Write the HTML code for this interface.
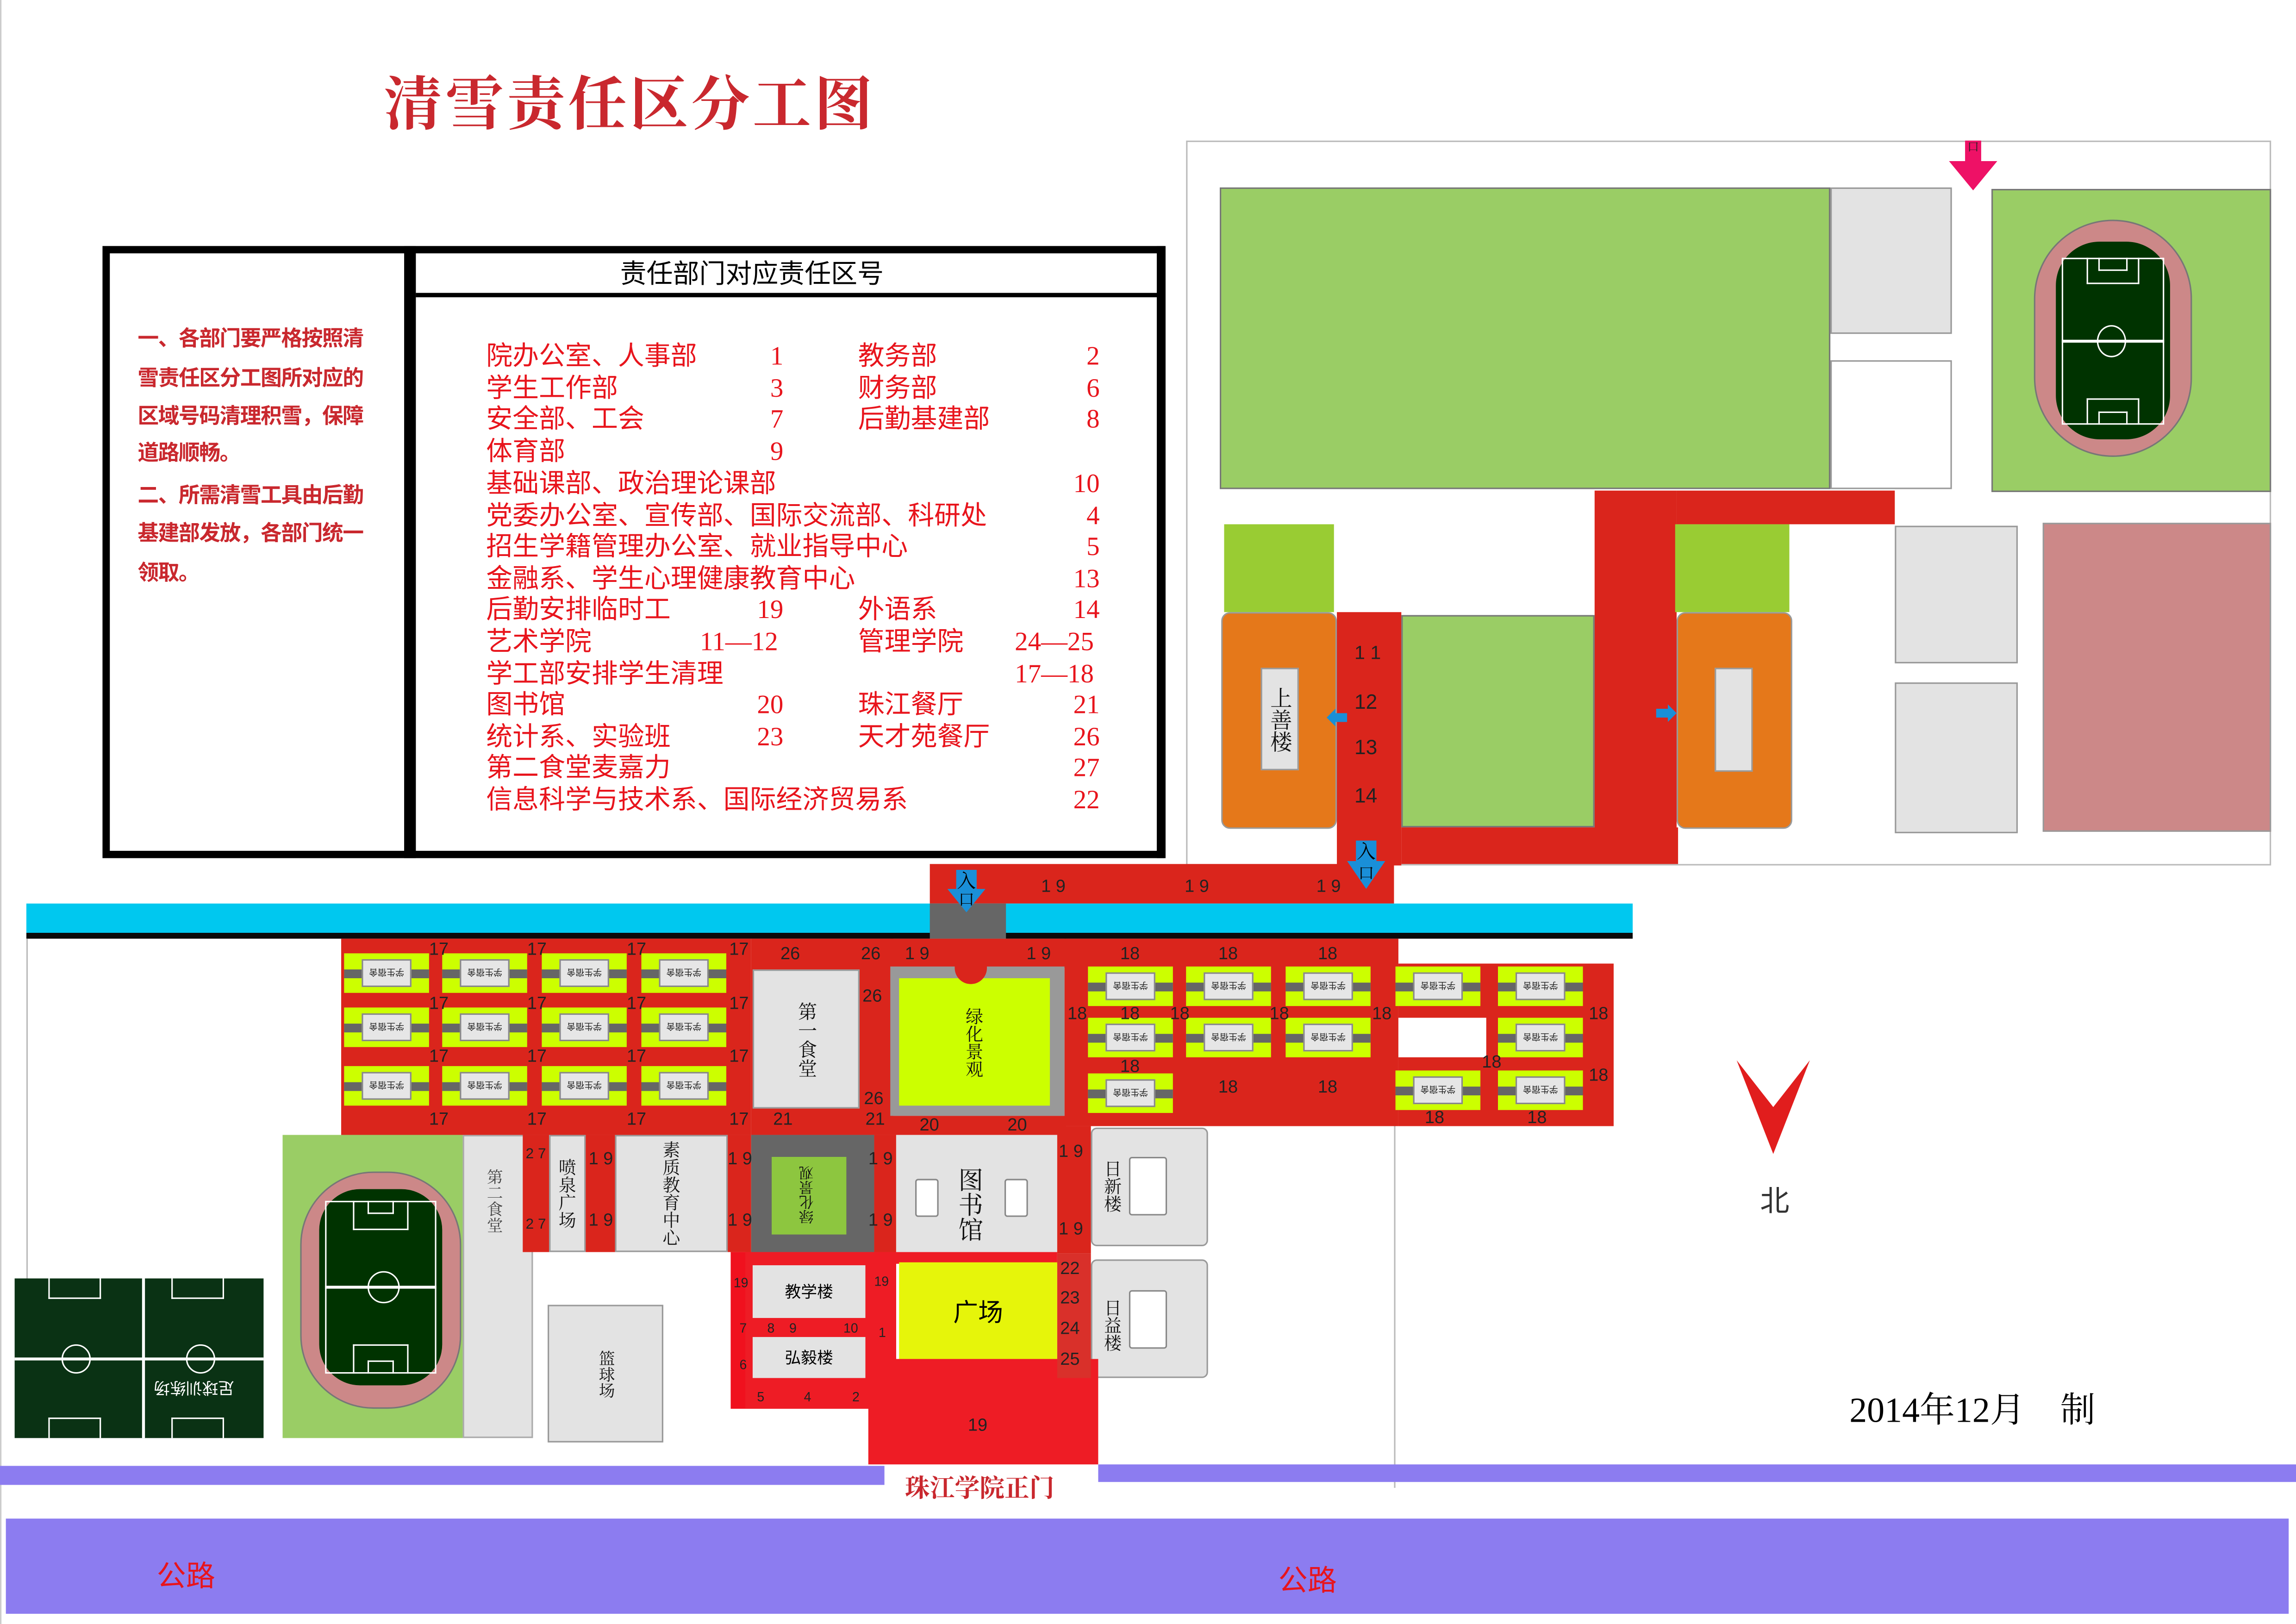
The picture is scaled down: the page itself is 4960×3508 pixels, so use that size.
<!DOCTYPE html>
<html><head><meta charset="utf-8"><style>
html,body{margin:0;padding:0;background:#fff;}
#W{width:4960px;height:3508px;overflow:hidden;position:relative;background:#fff;}
#S{position:absolute;left:0;top:0;width:1568px;height:1109px;transform:scale(3.16327);transform-origin:0 0;font-family:"Liberation Serif","Noto Serif CJK SC","Noto Sans CJK SC",serif;}
.a{position:absolute;box-sizing:border-box;}
.r{background:#da251c;}
.br{background:#f0111e;}
.g{background:#e3e3e3;border:1px solid #999;}
.lg{background:#9acd65;}
.yg{background:#ccff00;}
.n{position:absolute;font-family:"Liberation Sans Narrow","Liberation Sans",sans-serif;font-size:12px;color:#222;line-height:12px;}
.v{writing-mode:vertical-rl;text-orientation:upright;color:#111;font-family:"Liberation Serif","Noto Serif CJK SC",serif;display:flex;align-items:center;justify-content:center;}
.rt{color:#e8141c;font-size:18px;line-height:20px;position:absolute;white-space:nowrap;font-family:"Liberation Serif","Noto Sans CJK SC",sans-serif;}
.d{position:absolute;width:58px;height:27px;background:#ccff00;}
.d:before{content:"";position:absolute;left:0;right:0;top:11px;height:6px;background:#666;}
.d i{position:absolute;left:12px;right:12px;top:4px;bottom:4px;background:#e6e6e6;border:1px solid #888;font-style:normal;font-size:6px;line-height:17px;text-align:center;transform:rotate(180deg);font-family:"Noto Sans CJK SC",sans-serif;color:#222;}
.field{position:absolute;background:#003300;overflow:hidden;}
</style></head><body><div id="W"><div id="S">

<div class="a" style="left:0;top:0;width:1px;height:1109px;background:#ccc;"></div>

<!-- title -->
<div class="a" style="left:262px;top:40px;font-size:40px;color:#c9282e;font-weight:bold;letter-spacing:2px;font-family:'Noto Serif CJK SC',serif;white-space:nowrap;">清雪责任区分工图</div>

<!-- table -->
<div class="a" style="left:70px;top:168px;width:726px;height:418px;border:5px solid #000;"></div>
<div class="a" style="left:276px;top:168px;width:8px;height:418px;background:#000;"></div>
<div class="a" style="left:284px;top:173px;width:507px;height:30px;border-bottom:3px solid #000;"></div>
<div class="a" style="left:790px;top:168px;width:5px;height:418px;background:#000;"></div>
<div class="a" style="left:270px;top:173px;width:487px;height:30px;text-align:center;font-size:18px;line-height:26px;color:#000;font-family:'Noto Sans CJK SC',sans-serif;">责任部门对应责任区号</div>
<div class="a" style="left:94px;top:218px;width:180px;font-size:14.5px;line-height:26.5px;color:#c9282e;font-weight:bold;font-family:'Noto Sans CJK SC',sans-serif;letter-spacing:-0.5px;">
<div style="white-space:nowrap">一、各部门要严格按照清</div><div style="white-space:nowrap">雪责任区分工图所对应的</div><div style="white-space:nowrap">区域号码清理积雪，保障</div><div style="white-space:nowrap;line-height:22px">道路顺畅。</div><div style="white-space:nowrap;margin-top:5px">二、所需清雪工具由后勤</div><div style="white-space:nowrap">基建部发放，各部门统一</div><div>领取。</div></div>

<div class="rt" style="left:332px;top:233px">院办公室、人事部</div><div class="rt" style="left:526px;top:233px">1</div><div class="rt" style="left:586px;top:233px">教务部</div><div class="rt" style="left:742px;top:233px">2</div>
<div class="rt" style="left:332px;top:255px">学生工作部</div><div class="rt" style="left:526px;top:255px">3</div><div class="rt" style="left:586px;top:255px">财务部</div><div class="rt" style="left:742px;top:255px">6</div>
<div class="rt" style="left:332px;top:276px">安全部、工会</div><div class="rt" style="left:526px;top:276px">7</div><div class="rt" style="left:586px;top:276px">后勤基建部</div><div class="rt" style="left:742px;top:276px">8</div>
<div class="rt" style="left:332px;top:298px">体育部</div><div class="rt" style="left:526px;top:298px">9</div>
<div class="rt" style="left:332px;top:320px">基础课部、政治理论课部</div><div class="rt" style="left:733px;top:320px">10</div>
<div class="rt" style="left:332px;top:342px">党委办公室、宣传部、国际交流部、科研处</div><div class="rt" style="left:742px;top:342px">4</div>
<div class="rt" style="left:332px;top:363px">招生学籍管理办公室、就业指导中心</div><div class="rt" style="left:742px;top:363px">5</div>
<div class="rt" style="left:332px;top:385px">金融系、学生心理健康教育中心</div><div class="rt" style="left:733px;top:385px">13</div>
<div class="rt" style="left:332px;top:406px">后勤安排临时工</div><div class="rt" style="left:517px;top:406px">19</div><div class="rt" style="left:586px;top:406px">外语系</div><div class="rt" style="left:733px;top:406px">14</div>
<div class="rt" style="left:332px;top:428px">艺术学院</div><div class="rt" style="left:478px;top:428px">11—12</div><div class="rt" style="left:586px;top:428px">管理学院</div><div class="rt" style="left:693px;top:428px">24—25</div>
<div class="rt" style="left:332px;top:450px">学工部安排学生清理</div><div class="rt" style="left:693px;top:450px">17—18</div>
<div class="rt" style="left:332px;top:471px">图书馆</div><div class="rt" style="left:517px;top:471px">20</div><div class="rt" style="left:586px;top:471px">珠江餐厅</div><div class="rt" style="left:733px;top:471px">21</div>
<div class="rt" style="left:332px;top:493px">统计系、实验班</div><div class="rt" style="left:517px;top:493px">23</div><div class="rt" style="left:586px;top:493px">天才苑餐厅</div><div class="rt" style="left:733px;top:493px">26</div>
<div class="rt" style="left:332px;top:514px">第二食堂麦嘉力</div><div class="rt" style="left:733px;top:514px">27</div>
<div class="rt" style="left:332px;top:536px">信息科学与技术系、国际经济贸易系</div><div class="rt" style="left:733px;top:536px">22</div>

<!-- right top map -->
<div class="a" style="left:810px;top:96px;width:741px;height:495px;border:1px solid #bbb;"></div>
<div class="a lg" style="left:833px;top:128px;width:417px;height:206px;border:1px solid #777;"></div>
<div class="a g" style="left:1250px;top:128px;width:83px;height:100px;"></div>
<div class="a" style="left:1250px;top:246px;width:83px;height:88px;border:1px solid #999;"></div>
<div class="a lg" style="left:1360px;top:129px;width:191px;height:207px;border:1px solid #777;"></div>
<div class="a" style="left:1389px;top:150px;width:108px;height:162px;background:#cc8888;border-radius:54px;border:1px solid #777;"></div>
<div class="a field" style="left:1404px;top:165px;width:78px;height:135px;border-radius:30px;"></div>
<div class="a" style="left:1408px;top:176px;width:70px;height:114px;border:1.5px solid #fff;"></div>
<div class="a" style="left:1408px;top:232px;width:70px;height:1.5px;background:#fff;"></div>
<div class="a" style="left:1432px;top:222px;width:20px;height:22px;border:1.5px solid #fff;border-radius:50%;"></div>
<div class="a" style="left:1425px;top:176px;width:36px;height:18px;border:1.5px solid #fff;border-top:0;"></div>
<div class="a" style="left:1433px;top:176px;width:20px;height:9px;border:1.5px solid #fff;border-top:0;"></div>
<div class="a" style="left:1425px;top:272px;width:36px;height:18px;border:1.5px solid #fff;border-bottom:0;"></div>
<div class="a" style="left:1433px;top:281px;width:20px;height:9px;border:1.5px solid #fff;border-bottom:0;"></div>
<!-- pink arrow -->
<div class="a" style="left:1342px;top:96px;width:11px;height:16px;background:#ee1166;font-size:8px;line-height:9px;text-align:center;color:#222;">口</div>
<svg class="a" style="left:1331px;top:110px" width="33" height="20"><polygon points="0,0 33,0 16.5,20" fill="#ee1166"/></svg>

<div class="a r" style="left:1089px;top:335px;width:56px;height:231px;"></div>
<div class="a r" style="left:1145px;top:335px;width:149px;height:23px;"></div>
<div class="a" style="left:836px;top:358px;width:75px;height:60px;background:#99cc33;"></div>
<div class="a" style="left:1144px;top:358px;width:78px;height:60px;background:#99cc33;"></div>
<div class="a" style="left:834px;top:418px;width:79px;height:148px;background:#e5781a;border-radius:6px;border:1px solid #999;"></div>
<div class="a g v" style="left:861px;top:456px;width:26px;height:70px;font-size:15px;">上善楼</div>
<div class="a r" style="left:913px;top:418px;width:44px;height:173px;"></div>
<div class="n" style="left:925px;top:440px;font-size:13px;">1 1</div>
<div class="n" style="left:925px;top:473px;font-size:14px;">12</div>
<div class="n" style="left:925px;top:504px;font-size:14px;">13</div>
<div class="n" style="left:925px;top:537px;font-size:14px;">14</div>
<div class="a lg" style="left:957px;top:420px;width:132px;height:145px;border:1px solid #777;"></div>
<div class="a r" style="left:957px;top:565px;width:189px;height:25px;"></div>
<div class="a" style="left:1145px;top:418px;width:79px;height:148px;background:#e5781a;border-radius:6px;border:1px solid #999;"></div>
<div class="a g" style="left:1171px;top:456px;width:26px;height:71px;"></div>
<div class="a g" style="left:1294px;top:359px;width:84px;height:94px;"></div>
<div class="a g" style="left:1294px;top:466px;width:84px;height:103px;"></div>
<div class="a" style="left:1395px;top:357px;width:156px;height:211px;background:#cc8888;border:1px solid #999;"></div>
<svg class="a" style="left:906px;top:484px" width="14" height="12"><polygon points="0,6 6,0 6,3 14,3 14,9 6,9 6,12" fill="#1a8fd8"/></svg>
<svg class="a" style="left:1131px;top:481px" width="14" height="12"><polygon points="14,6 8,0 8,3 0,3 0,9 8,9 8,12" fill="#1a8fd8"/></svg>

<!-- 19 strip -->
<div class="a r" style="left:635px;top:590px;width:317px;height:27px;"></div>
<div class="n" style="left:711px;top:599px;">1 9</div>
<div class="n" style="left:809px;top:599px;">1 9</div>
<div class="n" style="left:899px;top:599px;">1 9</div>
<!-- cyan road -->
<div class="a" style="left:18px;top:617px;width:1097px;height:20px;background:#00c8ef;"></div>
<div class="a" style="left:18px;top:637px;width:1097px;height:4px;background:#0a0a0a;"></div>
<div class="a" style="left:635px;top:617px;width:52px;height:24px;background:#666;"></div>
<!-- entrance arrows -->
<div class="a" style="left:653px;top:594px;width:14px;height:16px;background:#1a8fd8;font-size:13px;line-height:15px;text-align:center;">入</div>
<svg class="a" style="left:647px;top:607px" width="26" height="16"><polygon points="0,0 26,0 13,16" fill="#1a8fd8"/><text x="13" y="11" font-size="11" text-anchor="middle" fill="#000">口</text></svg>
<div class="a" style="left:926px;top:574px;width:14px;height:16px;background:#1a8fd8;font-size:13px;line-height:15px;text-align:center;">入</div>
<svg class="a" style="left:920px;top:588px" width="26" height="19"><polygon points="0,0 26,0 13,19" fill="#1a8fd8"/><text x="13" y="12" font-size="11" text-anchor="middle" fill="#000">口</text></svg>

<!-- outer frame lines lower -->
<div class="a" style="left:18px;top:641px;width:1px;height:320px;background:#bbb;"></div>
<div class="a" style="left:952px;top:768px;width:1px;height:248px;background:#bbb;"></div>

<!-- 17 area -->
<div class="a r" style="left:233px;top:641px;width:280px;height:134px;"></div>
<div class="d" style="left:235px;top:651px"><i>学生宿舍</i></div><div class="d" style="left:302px;top:651px"><i>学生宿舍</i></div><div class="d" style="left:370px;top:651px"><i>学生宿舍</i></div><div class="d" style="left:438px;top:651px"><i>学生宿舍</i></div>
<div class="d" style="left:235px;top:688px"><i>学生宿舍</i></div><div class="d" style="left:302px;top:688px"><i>学生宿舍</i></div><div class="d" style="left:370px;top:688px"><i>学生宿舍</i></div><div class="d" style="left:438px;top:688px"><i>学生宿舍</i></div>
<div class="d" style="left:235px;top:728px"><i>学生宿舍</i></div><div class="d" style="left:302px;top:728px"><i>学生宿舍</i></div><div class="d" style="left:370px;top:728px"><i>学生宿舍</i></div><div class="d" style="left:438px;top:728px"><i>学生宿舍</i></div>
<div class="n" style="left:293px;top:642px">17</div><div class="n" style="left:360px;top:642px">17</div><div class="n" style="left:428px;top:642px">17</div><div class="n" style="left:498px;top:642px">17</div>
<div class="n" style="left:293px;top:679px">17</div><div class="n" style="left:360px;top:679px">17</div><div class="n" style="left:428px;top:679px">17</div><div class="n" style="left:498px;top:679px">17</div>
<div class="n" style="left:293px;top:715px">17</div><div class="n" style="left:360px;top:715px">17</div><div class="n" style="left:428px;top:715px">17</div><div class="n" style="left:498px;top:715px">17</div>
<div class="n" style="left:293px;top:758px">17</div><div class="n" style="left:360px;top:758px">17</div><div class="n" style="left:428px;top:758px">17</div><div class="n" style="left:498px;top:758px">17</div>

<!-- 26 / 21 canteen -->
<div class="a r" style="left:513px;top:641px;width:97px;height:134px;"></div>
<div class="a g v" style="left:514px;top:662px;width:73px;height:95px;font-size:13px;">第一食堂</div>
<div class="n" style="left:533px;top:645px">26</div><div class="n" style="left:588px;top:645px">26</div>
<div class="n" style="left:589px;top:674px">26</div><div class="n" style="left:590px;top:744px">26</div>
<div class="n" style="left:528px;top:758px">21</div><div class="n" style="left:591px;top:758px">21</div>

<!-- green landscape -->
<div class="a r" style="left:608px;top:641px;width:120px;height:20px;"></div>
<div class="n" style="left:618px;top:645px">1 9</div><div class="n" style="left:701px;top:645px">1 9</div>
<div class="a" style="left:608px;top:660px;width:119px;height:102px;background:#999;"></div>
<div class="a v" style="left:614px;top:668px;width:103px;height:87px;background:#ccff00;font-size:12px;">绿化景观</div>
<div class="a" style="left:652px;top:658px;width:22px;height:14px;background:#da251c;border-radius:0 0 11px 11px;"></div>
<div class="a r" style="left:608px;top:762px;width:120px;height:13px;"></div>
<div class="n" style="left:628px;top:762px">20</div><div class="n" style="left:688px;top:762px">20</div>

<!-- 18 area -->
<div class="a r" style="left:727px;top:641px;width:228px;height:128px;"></div>
<div class="a r" style="left:955px;top:658px;width:147px;height:111px;"></div>
<div class="a" style="left:955px;top:695px;width:60px;height:27px;background:#fff;"></div>
<div class="d" style="left:743px;top:660px"><i>学生宿舍</i></div><div class="d" style="left:810px;top:660px"><i>学生宿舍</i></div><div class="d" style="left:878px;top:660px"><i>学生宿舍</i></div>
<div class="d" style="left:743px;top:695px"><i>学生宿舍</i></div><div class="d" style="left:810px;top:695px"><i>学生宿舍</i></div><div class="d" style="left:878px;top:695px"><i>学生宿舍</i></div>
<div class="d" style="left:743px;top:733px"><i>学生宿舍</i></div>
<div class="d" style="left:953px;top:660px"><i>学生宿舍</i></div><div class="d" style="left:1023px;top:660px"><i>学生宿舍</i></div>
<div class="d" style="left:1023px;top:695px"><i>学生宿舍</i></div>
<div class="d" style="left:953px;top:731px"><i>学生宿舍</i></div><div class="d" style="left:1023px;top:731px"><i>学生宿舍</i></div>
<div class="n" style="left:765px;top:645px">18</div><div class="n" style="left:832px;top:645px">18</div><div class="n" style="left:900px;top:645px">18</div>
<div class="n" style="left:729px;top:686px">18</div><div class="n" style="left:765px;top:686px">18</div><div class="n" style="left:799px;top:686px">18</div><div class="n" style="left:867px;top:686px">18</div><div class="n" style="left:937px;top:686px">18</div><div class="n" style="left:1085px;top:686px">18</div>
<div class="n" style="left:765px;top:722px">18</div><div class="n" style="left:832px;top:736px">18</div><div class="n" style="left:900px;top:736px">18</div>
<div class="n" style="left:1012px;top:719px">18</div><div class="n" style="left:1085px;top:728px">18</div>
<div class="n" style="left:973px;top:757px">18</div><div class="n" style="left:1043px;top:757px">18</div>

<!-- lower left: track -->
<div class="a lg" style="left:193px;top:775px;width:123px;height:207px;"></div>
<div class="a" style="left:205px;top:800px;width:110px;height:162px;background:#cc8888;border-radius:50px;border:1px solid #777;"></div>
<div class="a field" style="left:218px;top:812px;width:84px;height:134px;border-radius:28px;"></div>
<div class="a" style="left:222px;top:820px;width:76px;height:118px;border:1.5px solid #fff;"></div>
<div class="a" style="left:222px;top:878px;width:76px;height:1.5px;background:#fff;"></div>
<div class="a" style="left:251px;top:868px;width:22px;height:22px;border:1.5px solid #fff;border-radius:50%;"></div>
<div class="a" style="left:241px;top:820px;width:38px;height:20px;border:1.5px solid #fff;border-top:0;"></div>
<div class="a" style="left:251px;top:820px;width:18px;height:9px;border:1.5px solid #fff;border-top:0;"></div>
<div class="a" style="left:241px;top:918px;width:38px;height:20px;border:1.5px solid #fff;border-bottom:0;"></div>
<div class="a" style="left:251px;top:929px;width:18px;height:9px;border:1.5px solid #fff;border-bottom:0;"></div>
<div class="a" style="left:316px;top:775px;width:48px;height:207px;background:#e3e3e3;border:1px solid #aaa;"></div>
<div class="a v" style="left:316px;top:780px;width:42px;height:80px;font-size:11px;color:#444;">第二食堂</div>
<div class="a r" style="left:357px;top:775px;width:18px;height:80px;"></div>
<div class="n" style="left:359px;top:783px;font-size:10px">2 7</div><div class="n" style="left:359px;top:831px;font-size:10px">2 7</div>
<div class="a g v" style="left:375px;top:775px;width:25px;height:80px;font-size:12px;">喷泉广场</div>
<div class="a r" style="left:400px;top:775px;width:20px;height:80px;"></div>
<div class="n" style="left:402px;top:785px">1 9</div><div class="n" style="left:402px;top:827px">1 9</div>
<div class="a g v" style="left:420px;top:775px;width:77px;height:80px;font-size:12px;">素质教育中心</div>
<div class="a r" style="left:497px;top:775px;width:16px;height:80px;"></div>
<div class="n" style="left:497px;top:785px">1 9</div><div class="n" style="left:497px;top:827px">1 9</div>
<div class="a" style="left:513px;top:775px;width:84px;height:80px;background:#666;"></div>
<div class="a v" style="left:527px;top:790px;width:51px;height:53px;background:#8dc63f;font-size:10px;transform:rotate(180deg);">绿化景观</div>
<div class="a r" style="left:597px;top:775px;width:15px;height:80px;"></div>
<div class="n" style="left:593px;top:785px">1 9</div><div class="n" style="left:593px;top:827px">1 9</div>
<div class="a" style="left:612px;top:775px;width:110px;height:83px;background:#e3e3e3;"></div>
<div class="a" style="left:625px;top:805px;width:16px;height:26px;background:#fff;border:1px solid #888;border-radius:2px;"></div>
<div class="a" style="left:686px;top:805px;width:16px;height:26px;background:#fff;border:1px solid #888;border-radius:2px;"></div>
<div class="a v" style="left:645px;top:795px;width:32px;height:55px;font-size:17px;">图书馆</div>
<div class="a r" style="left:722px;top:769px;width:23px;height:87px;"></div>
<div class="n" style="left:723px;top:780px">1 9</div><div class="n" style="left:723px;top:833px">1 9</div>
<div class="a g" style="left:745px;top:770px;width:80px;height:81px;border-radius:4px;"></div>
<div class="a" style="left:771px;top:790px;width:26px;height:40px;background:#fff;border:1px solid #888;border-radius:2px;"></div>
<div class="a v" style="left:750px;top:785px;width:20px;height:50px;font-size:12px;">日新楼</div>
<div class="a g" style="left:745px;top:860px;width:80px;height:81px;border-radius:4px;"></div>
<div class="a" style="left:771px;top:881px;width:26px;height:40px;background:#fff;border:1px solid #888;border-radius:2px;"></div>
<div class="a v" style="left:750px;top:880px;width:20px;height:50px;font-size:12px;">日益楼</div>

<!-- teaching buildings -->
<div class="a br" style="left:499px;top:855px;width:113px;height:107px;"></div>
<div class="a" style="left:509px;top:855px;width:103px;height:107px;background:#ee1c25;"></div>
<div class="a g" style="left:514px;top:864px;width:77px;height:36px;border:0;font-size:11px;line-height:36px;text-align:center;font-family:'Noto Sans CJK SC',sans-serif;">教学楼</div>
<div class="a g" style="left:514px;top:913px;width:77px;height:28px;border:0;font-size:11px;line-height:28px;text-align:center;font-family:'Noto Sans CJK SC',sans-serif;">弘毅楼</div>
<div class="n" style="left:501px;top:870px;font-size:9px">19</div><div class="n" style="left:597px;top:869px;font-size:9px">19</div>
<div class="n" style="left:505px;top:901px;font-size:9px">7</div><div class="n" style="left:524px;top:901px;font-size:9px">8</div><div class="n" style="left:539px;top:901px;font-size:9px">9</div><div class="n" style="left:576px;top:901px;font-size:9px">10</div>
<div class="n" style="left:600px;top:904px;font-size:9px">1</div><div class="n" style="left:505px;top:926px;font-size:9px">6</div><div class="n" style="left:600px;top:932px;font-size:9px">3</div>
<div class="n" style="left:517px;top:948px;font-size:9px">5</div><div class="n" style="left:549px;top:948px;font-size:9px">4</div><div class="n" style="left:582px;top:948px;font-size:9px">2</div>
<div class="a" style="left:612px;top:855px;width:110px;height:8px;background:#ee1c25;"></div>
<div class="a" style="left:614px;top:862px;width:108px;height:66px;background:#e6f50a;font-size:17px;line-height:66px;text-align:center;font-family:'Noto Sans CJK SC',sans-serif;">广场</div>
<div class="a" style="left:593px;top:928px;width:157px;height:72px;background:#ee1c25;"></div>
<div class="n" style="left:661px;top:967px">19</div>
<div class="a" style="left:722px;top:856px;width:23px;height:85px;background:#d9302a;"></div>
<div class="n" style="left:724px;top:860px">22</div><div class="n" style="left:724px;top:880px">23</div><div class="n" style="left:724px;top:901px">24</div><div class="n" style="left:724px;top:922px">25</div>
<div class="a g v" style="left:374px;top:891px;width:79px;height:94px;font-size:11px;">篮球场</div>

<!-- football fields -->
<div class="a field" style="left:10px;top:873px;width:170px;height:109px;background:#0a3214;"></div>
<div class="a" style="left:10px;top:927px;width:170px;height:1.5px;background:#fff;"></div>
<div class="a" style="left:97px;top:873px;width:1.5px;height:109px;background:#fff;"></div>
<div class="a" style="left:42px;top:918px;width:20px;height:20px;border:1.5px solid #fff;border-radius:50%;"></div>
<div class="a" style="left:127px;top:918px;width:20px;height:20px;border:1.5px solid #fff;border-radius:50%;"></div>
<div class="a" style="left:33px;top:873px;width:36px;height:14px;border:1.5px solid #fff;border-top:0;"></div>
<div class="a" style="left:117px;top:873px;width:36px;height:14px;border:1.5px solid #fff;border-top:0;"></div>
<div class="a" style="left:33px;top:968px;width:36px;height:14px;border:1.5px solid #fff;border-bottom:0;"></div>
<div class="a" style="left:117px;top:968px;width:36px;height:14px;border:1.5px solid #fff;border-bottom:0;"></div>
<div class="a" style="left:105px;top:940px;font-size:11px;color:#fff;transform:rotate(180deg);white-space:nowrap;font-family:'Noto Sans CJK SC',sans-serif;">足球训练场</div>

<!-- roads -->
<div class="a" style="left:0;top:1001px;width:604px;height:13px;background:#8c7cf0;"></div>
<div class="a" style="left:750px;top:1000px;width:818px;height:12px;background:#8c7cf0;"></div>
<div class="a" style="left:618px;top:1002px;font-size:17px;color:#c9282e;font-weight:bold;white-space:nowrap;font-family:'Noto Serif CJK SC',serif;">珠江学院正门</div>
<div class="a" style="left:4px;top:1037px;width:1559px;height:65px;background:#8c7cf0;"></div>
<div class="a" style="left:107px;top:1060px;font-size:20px;color:#e8141c;font-family:'Noto Sans CJK SC',sans-serif;">公路</div>
<div class="a" style="left:873px;top:1063px;font-size:20px;color:#e8141c;font-family:'Noto Sans CJK SC',sans-serif;">公路</div>

<!-- north -->
<svg class="a" style="left:1186px;top:724px" width="50" height="64"><polygon points="0,0 25,32 50,0 25,64" fill="#e11d1d"/></svg>
<div class="a" style="left:1202px;top:804px;font-size:20px;color:#333;font-family:'Noto Sans CJK SC',sans-serif;">北</div>
<div class="a" style="left:1263px;top:943px;font-size:24px;color:#000;white-space:nowrap;">2014年12月&nbsp;&nbsp;&nbsp;&nbsp;制</div>

</div></div></body></html>
